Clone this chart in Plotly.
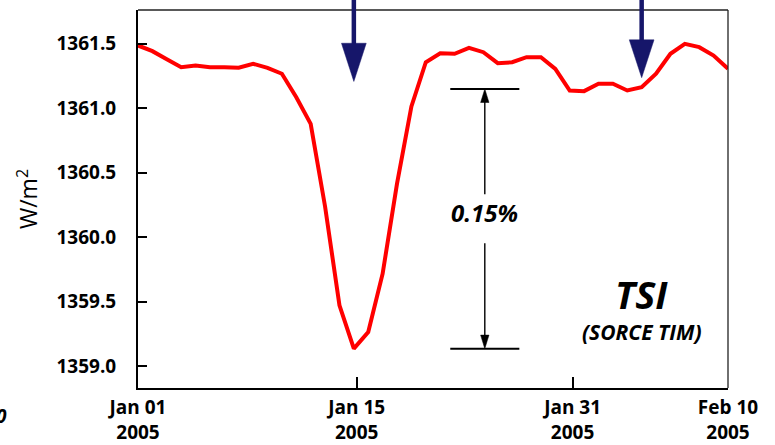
import plotly.graph_objects as go

# Daily total solar irradiance (W/m^2), SORCE TIM, early 2005
day_index = list(range(42))
tsi = [
    1361.487, 1361.443, 1361.380, 1361.319, 1361.332, 1361.319, 1361.319,
    1361.314, 1361.345, 1361.314, 1361.268, 1361.086, 1360.880, 1360.239,
    1359.473, 1359.137, 1359.266, 1359.718, 1360.416, 1361.014, 1361.357,
    1361.427, 1361.423, 1361.469, 1361.435, 1361.350, 1361.357, 1361.396,
    1361.396, 1361.306, 1361.138, 1361.133, 1361.190, 1361.190, 1361.138,
    1361.164, 1361.268, 1361.423, 1361.500, 1361.474, 1361.409, 1361.306,
]

tick_pos = [0, 15.2, 30.2, 41]
tick_text = ["Jan 01<br>2005", "Jan 15<br>2005", "Jan 31<br>2005", "Feb 10<br>2005"]
y_ticks = [1359.0, 1359.5, 1360.0, 1360.5, 1361.0, 1361.5]

# event markers (day index) and the depth bracket
event_days = [15, 35]
bracket_x = 24.1
bracket_top = 1361.15
bracket_bottom = min(tsi)
bracket_label = "0.15%"

NAVY = "#16166a"
FONT = "Open Sans"

fig = go.Figure()
fig.add_trace(go.Scatter(
    x=day_index, y=tsi, mode="lines",
    line=dict(color="#ff0000", width=4),
    hoverinfo="skip", showlegend=False,
))

shapes = []
# frame: top and right edges
shapes.append(dict(type="line", xref="paper", yref="paper", x0=0, x1=1, y0=1, y1=1,
                   line=dict(color="#222", width=1.3)))
shapes.append(dict(type="line", xref="paper", yref="paper", x0=1, x1=1, y0=0, y1=1,
                   line=dict(color="#222", width=1.3)))

# navy event arrows coming down from above the frame
head_base = [0.912, 0.921]
head_tip = [0.811, 0.821]
for d, hb, ht in zip(event_days, head_base, head_tip):
    shapes.append(dict(type="line", xref="x", yref="paper", x0=d, x1=d, y0=1.03, y1=hb - 0.01,
                       line=dict(color=NAVY, width=4.5)))
    shapes.append(dict(type="path", xref="x", yref="paper",
                       path=f"M {d-0.86},{hb} L {d+0.86},{hb} L {d},{ht} Z",
                       fillcolor=NAVY, line=dict(color=NAVY, width=0.5)))

# depth bracket: horizontal bars, shafts and arrowheads
half_w = 2.4
for lvl in (bracket_top, bracket_bottom):
    shapes.append(dict(type="line", xref="x", yref="y", x0=bracket_x - half_w, x1=bracket_x + half_w,
                       y0=lvl, y1=lvl, line=dict(color="black", width=2)))
mid = (bracket_top + bracket_bottom) / 2
gap = 0.19
shapes.append(dict(type="line", xref="x", yref="y", x0=bracket_x, x1=bracket_x,
                   y0=mid + gap, y1=bracket_top - 0.05, line=dict(color="black", width=1.4)))
shapes.append(dict(type="line", xref="x", yref="y", x0=bracket_x, x1=bracket_x,
                   y0=mid - gap, y1=bracket_bottom + 0.05, line=dict(color="black", width=1.4)))
hl, hw = 0.105, 0.29
shapes.append(dict(type="path", xref="x", yref="y",
                   path=f"M {bracket_x-hw},{bracket_top-hl} L {bracket_x+hw},{bracket_top-hl} L {bracket_x},{bracket_top} Z",
                   fillcolor="black", line=dict(color="black", width=0.5)))
shapes.append(dict(type="path", xref="x", yref="y",
                   path=f"M {bracket_x-hw},{bracket_bottom+hl} L {bracket_x+hw},{bracket_bottom+hl} L {bracket_x},{bracket_bottom} Z",
                   fillcolor="black", line=dict(color="black", width=0.5)))

annotations = [
    dict(x=bracket_x, y=mid + 0.05, xref="x", yref="y", text=f"<b><i>{bracket_label}</i></b>",
         showarrow=False, xanchor="center", yanchor="middle",
         font=dict(family=FONT, size=24, color="black")),
    dict(x=0.854, y=0.250, xref="paper", yref="paper", text="<b><i>TSI</i></b>",
         showarrow=False, xanchor="center", yanchor="middle",
         font=dict(family=FONT, size=38, color="black")),
    dict(x=0.854, y=0.148, xref="paper", yref="paper", text="<b><i>(SORCE TIM)</i></b>",
         showarrow=False, xanchor="center", yanchor="middle",
         font=dict(family=FONT, size=21, color="black")),
    dict(x=-0.219, y=-0.075, xref="paper", yref="paper", xanchor="right", yanchor="middle",
         text="<b><i>0</i></b>",
         showarrow=False, font=dict(family=FONT, size=19, color="black")),
]

fig.update_layout(
    width=775, height=445,
    margin=dict(l=138, r=47, t=10, b=57),
    paper_bgcolor="white", plot_bgcolor="white",
    shapes=shapes, annotations=annotations,
    font=dict(family=FONT, color="black"),
    xaxis=dict(
        range=[0, 41], tickvals=tick_pos, ticktext=tick_text,
        ticks="inside", ticklen=11, tickwidth=1.5, tickcolor="black",
        showline=True, linecolor="black", linewidth=2,
        showgrid=False, zeroline=False, automargin=False,
        tickfont=dict(family=FONT, size=19, color="black", weight="bold"),
        ticklabelstandoff=1,
    ),
    yaxis=dict(
        range=[1358.832, 1361.762], tickvals=y_ticks, tickformat=".1f",
        ticks="inside", ticklen=9, tickwidth=1.5, tickcolor="black",
        showline=True, linecolor="black", linewidth=2,
        showgrid=False, zeroline=False, automargin=False,
        tickfont=dict(family=FONT, size=19, color="black", weight="bold"),
        ticklabelstandoff=16,
        title=dict(text="W/m<sup>2</sup>", font=dict(family=FONT, size=23, color="black"), standoff=12),
    ),
)

fig.write_html("out.html")
